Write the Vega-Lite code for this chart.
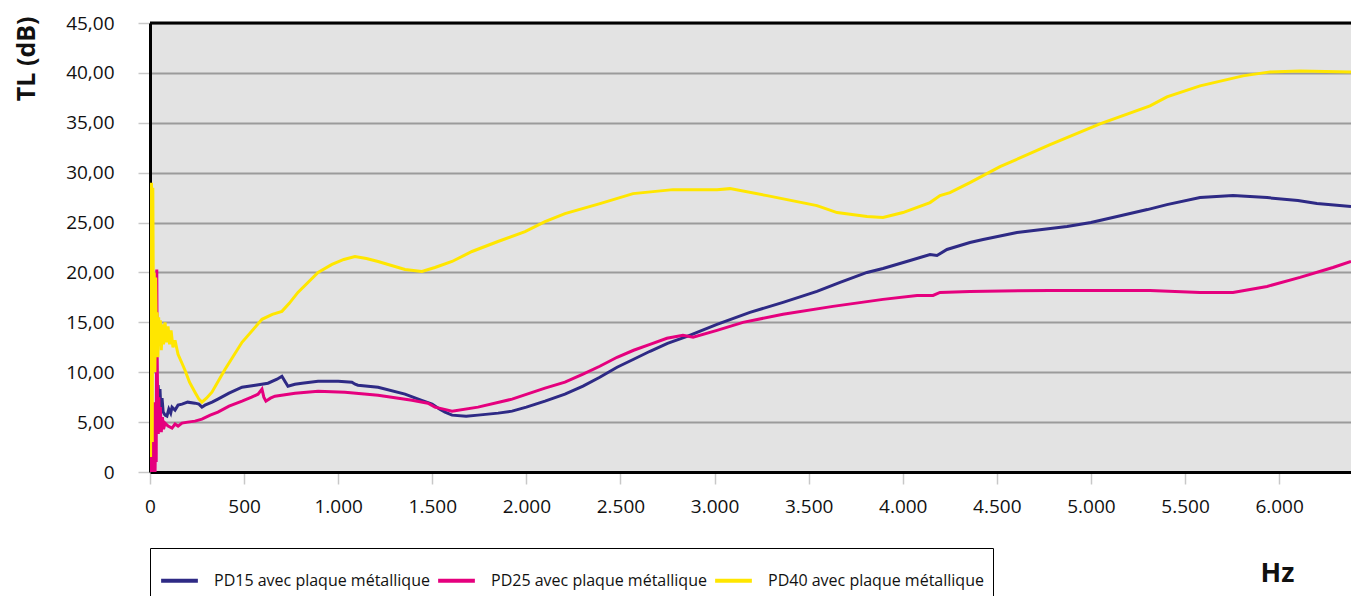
{
  "$schema": "https://vega.github.io/schema/vega-lite/v6.json",
  "autosize": {"type": "none"},
  "width": 1201,
  "height": 449,
  "padding": {"left": 150, "top": 23, "right": 0, "bottom": 124},
  "background": "white",
  "config": {
    "view": {"fill": "#E3E3E3", "stroke": null},
    "font": "Open Sans"
  },
  "datasets": {
    "curves": [
      {"serie": "PD15", "freq": 25, "tl": 4.5}, {"serie": "PD15", "freq": 35, "tl": 6.5}, {"serie": "PD15", "freq": 43, "tl": 8.7}, {"serie": "PD15", "freq": 48, "tl": 7.0}, {"serie": "PD15", "freq": 53, "tl": 8.3}, {"serie": "PD15", "freq": 58, "tl": 6.2}, {"serie": "PD15", "freq": 64, "tl": 7.4}, {"serie": "PD15", "freq": 70, "tl": 6.0}, {"serie": "PD15", "freq": 80, "tl": 5.7}, {"serie": "PD15", "freq": 90, "tl": 5.6}, {"serie": "PD15", "freq": 100, "tl": 6.3}, {"serie": "PD15", "freq": 110, "tl": 5.9}, {"serie": "PD15", "freq": 117, "tl": 6.5}, {"serie": "PD15", "freq": 133, "tl": 6.2}, {"serie": "PD15", "freq": 149, "tl": 6.7}, {"serie": "PD15", "freq": 170, "tl": 6.8}, {"serie": "PD15", "freq": 200, "tl": 7.0}, {"serie": "PD15", "freq": 239, "tl": 6.9}, {"serie": "PD15", "freq": 260, "tl": 6.8}, {"serie": "PD15", "freq": 276, "tl": 6.5}, {"serie": "PD15", "freq": 292, "tl": 6.7}, {"serie": "PD15", "freq": 330, "tl": 7.0}, {"serie": "PD15", "freq": 361, "tl": 7.3}, {"serie": "PD15", "freq": 420, "tl": 7.9}, {"serie": "PD15", "freq": 489, "tl": 8.5}, {"serie": "PD15", "freq": 560, "tl": 8.7}, {"serie": "PD15", "freq": 627, "tl": 8.9}, {"serie": "PD15", "freq": 675, "tl": 9.3}, {"serie": "PD15", "freq": 701, "tl": 9.6}, {"serie": "PD15", "freq": 720, "tl": 9.0}, {"serie": "PD15", "freq": 733, "tl": 8.6}, {"serie": "PD15", "freq": 770, "tl": 8.8}, {"serie": "PD15", "freq": 808, "tl": 8.9}, {"serie": "PD15", "freq": 893, "tl": 9.1}, {"serie": "PD15", "freq": 1000, "tl": 9.1}, {"serie": "PD15", "freq": 1073, "tl": 9.0}, {"serie": "PD15", "freq": 1090, "tl": 8.8}, {"serie": "PD15", "freq": 1105, "tl": 8.7}, {"serie": "PD15", "freq": 1212, "tl": 8.5}, {"serie": "PD15", "freq": 1355, "tl": 7.8}, {"serie": "PD15", "freq": 1440, "tl": 7.2}, {"serie": "PD15", "freq": 1499, "tl": 6.8}, {"serie": "PD15", "freq": 1540, "tl": 6.3}, {"serie": "PD15", "freq": 1568, "tl": 6.0}, {"serie": "PD15", "freq": 1605, "tl": 5.7}, {"serie": "PD15", "freq": 1680, "tl": 5.6}, {"serie": "PD15", "freq": 1743, "tl": 5.7}, {"serie": "PD15", "freq": 1850, "tl": 5.9}, {"serie": "PD15", "freq": 1924, "tl": 6.1}, {"serie": "PD15", "freq": 2000, "tl": 6.5}, {"serie": "PD15", "freq": 2099, "tl": 7.1}, {"serie": "PD15", "freq": 2205, "tl": 7.8}, {"serie": "PD15", "freq": 2301, "tl": 8.6}, {"serie": "PD15", "freq": 2390, "tl": 9.5}, {"serie": "PD15", "freq": 2482, "tl": 10.5}, {"serie": "PD15", "freq": 2570, "tl": 11.3}, {"serie": "PD15", "freq": 2657, "tl": 12.1}, {"serie": "PD15", "freq": 2750, "tl": 12.9}, {"serie": "PD15", "freq": 2854, "tl": 13.6}, {"serie": "PD15", "freq": 3013, "tl": 14.8}, {"serie": "PD15", "freq": 3188, "tl": 16.0}, {"serie": "PD15", "freq": 3364, "tl": 17.0}, {"serie": "PD15", "freq": 3544, "tl": 18.1}, {"serie": "PD15", "freq": 3667, "tl": 19.0}, {"serie": "PD15", "freq": 3810, "tl": 20.0}, {"serie": "PD15", "freq": 3895, "tl": 20.4}, {"serie": "PD15", "freq": 4039, "tl": 21.2}, {"serie": "PD15", "freq": 4145, "tl": 21.8}, {"serie": "PD15", "freq": 4182, "tl": 21.7}, {"serie": "PD15", "freq": 4235, "tl": 22.3}, {"serie": "PD15", "freq": 4357, "tl": 23.0}, {"serie": "PD15", "freq": 4427, "tl": 23.3}, {"serie": "PD15", "freq": 4607, "tl": 24.0}, {"serie": "PD15", "freq": 4873, "tl": 24.6}, {"serie": "PD15", "freq": 5000, "tl": 25.0}, {"serie": "PD15", "freq": 5139, "tl": 25.6}, {"serie": "PD15", "freq": 5300, "tl": 26.3}, {"serie": "PD15", "freq": 5404, "tl": 26.8}, {"serie": "PD15", "freq": 5580, "tl": 27.5}, {"serie": "PD15", "freq": 5755, "tl": 27.7}, {"serie": "PD15", "freq": 5936, "tl": 27.5}, {"serie": "PD15", "freq": 6100, "tl": 27.2}, {"serie": "PD15", "freq": 6201, "tl": 26.9}, {"serie": "PD15", "freq": 6382, "tl": 26.6},

      {"serie": "PD25", "freq": 3, "tl": 0}, {"serie": "PD25", "freq": 6, "tl": 6.5}, {"serie": "PD25", "freq": 9, "tl": 0.2}, {"serie": "PD25", "freq": 12, "tl": 7}, {"serie": "PD25", "freq": 15, "tl": 0}, {"serie": "PD25", "freq": 18, "tl": 5.5}, {"serie": "PD25", "freq": 21, "tl": 0.3}, {"serie": "PD25", "freq": 24, "tl": 7}, {"serie": "PD25", "freq": 27, "tl": 0}, {"serie": "PD25", "freq": 30, "tl": 5}, {"serie": "PD25", "freq": 33, "tl": 1}, {"serie": "PD25", "freq": 36, "tl": 20.3}, {"serie": "PD25", "freq": 38, "tl": 12}, {"serie": "PD25", "freq": 41, "tl": 6.5}, {"serie": "PD25", "freq": 44, "tl": 3.8}, {"serie": "PD25", "freq": 47, "tl": 7.5}, {"serie": "PD25", "freq": 50, "tl": 4.2}, {"serie": "PD25", "freq": 55, "tl": 6.5}, {"serie": "PD25", "freq": 60, "tl": 4.0}, {"serie": "PD25", "freq": 66, "tl": 5.5}, {"serie": "PD25", "freq": 72, "tl": 4.3}, {"serie": "PD25", "freq": 80, "tl": 4.9}, {"serie": "PD25", "freq": 96, "tl": 4.6}, {"serie": "PD25", "freq": 117, "tl": 4.4}, {"serie": "PD25", "freq": 133, "tl": 4.8}, {"serie": "PD25", "freq": 149, "tl": 4.6}, {"serie": "PD25", "freq": 170, "tl": 4.9}, {"serie": "PD25", "freq": 200, "tl": 5.0}, {"serie": "PD25", "freq": 239, "tl": 5.1}, {"serie": "PD25", "freq": 276, "tl": 5.3}, {"serie": "PD25", "freq": 320, "tl": 5.7}, {"serie": "PD25", "freq": 361, "tl": 6.0}, {"serie": "PD25", "freq": 420, "tl": 6.6}, {"serie": "PD25", "freq": 489, "tl": 7.1}, {"serie": "PD25", "freq": 540, "tl": 7.5}, {"serie": "PD25", "freq": 574, "tl": 7.8}, {"serie": "PD25", "freq": 595, "tl": 8.3}, {"serie": "PD25", "freq": 605, "tl": 7.5}, {"serie": "PD25", "freq": 616, "tl": 7.1}, {"serie": "PD25", "freq": 640, "tl": 7.4}, {"serie": "PD25", "freq": 664, "tl": 7.6}, {"serie": "PD25", "freq": 771, "tl": 7.9}, {"serie": "PD25", "freq": 893, "tl": 8.1}, {"serie": "PD25", "freq": 1036, "tl": 8.0}, {"serie": "PD25", "freq": 1212, "tl": 7.7}, {"serie": "PD25", "freq": 1392, "tl": 7.2}, {"serie": "PD25", "freq": 1477, "tl": 6.9}, {"serie": "PD25", "freq": 1514, "tl": 6.5}, {"serie": "PD25", "freq": 1560, "tl": 6.3}, {"serie": "PD25", "freq": 1605, "tl": 6.1}, {"serie": "PD25", "freq": 1743, "tl": 6.5}, {"serie": "PD25", "freq": 1924, "tl": 7.3}, {"serie": "PD25", "freq": 2099, "tl": 8.4}, {"serie": "PD25", "freq": 2205, "tl": 9.0}, {"serie": "PD25", "freq": 2301, "tl": 9.8}, {"serie": "PD25", "freq": 2390, "tl": 10.6}, {"serie": "PD25", "freq": 2482, "tl": 11.5}, {"serie": "PD25", "freq": 2570, "tl": 12.2}, {"serie": "PD25", "freq": 2657, "tl": 12.8}, {"serie": "PD25", "freq": 2747, "tl": 13.4}, {"serie": "PD25", "freq": 2832, "tl": 13.7}, {"serie": "PD25", "freq": 2886, "tl": 13.5}, {"serie": "PD25", "freq": 3013, "tl": 14.2}, {"serie": "PD25", "freq": 3151, "tl": 15.0}, {"serie": "PD25", "freq": 3364, "tl": 15.8}, {"serie": "PD25", "freq": 3629, "tl": 16.6}, {"serie": "PD25", "freq": 3895, "tl": 17.3}, {"serie": "PD25", "freq": 4076, "tl": 17.7}, {"serie": "PD25", "freq": 4161, "tl": 17.7}, {"serie": "PD25", "freq": 4198, "tl": 18.0}, {"serie": "PD25", "freq": 4357, "tl": 18.1}, {"serie": "PD25", "freq": 4783, "tl": 18.2}, {"serie": "PD25", "freq": 5314, "tl": 18.2}, {"serie": "PD25", "freq": 5580, "tl": 18.0}, {"serie": "PD25", "freq": 5755, "tl": 18.0}, {"serie": "PD25", "freq": 5936, "tl": 18.6}, {"serie": "PD25", "freq": 6111, "tl": 19.5}, {"serie": "PD25", "freq": 6286, "tl": 20.5}, {"serie": "PD25", "freq": 6382, "tl": 21.1},

      {"serie": "PD40", "freq": 3, "tl": 1.5}, {"serie": "PD40", "freq": 8, "tl": 29}, {"serie": "PD40", "freq": 12, "tl": 3}, {"serie": "PD40", "freq": 15, "tl": 28.5}, {"serie": "PD40", "freq": 19, "tl": 12}, {"serie": "PD40", "freq": 22, "tl": 20}, {"serie": "PD40", "freq": 26, "tl": 10}, {"serie": "PD40", "freq": 30, "tl": 19.5}, {"serie": "PD40", "freq": 34, "tl": 12}, {"serie": "PD40", "freq": 38, "tl": 16}, {"serie": "PD40", "freq": 42, "tl": 11.5}, {"serie": "PD40", "freq": 46, "tl": 15.5}, {"serie": "PD40", "freq": 50, "tl": 13}, {"serie": "PD40", "freq": 55, "tl": 15.2}, {"serie": "PD40", "freq": 60, "tl": 12.2}, {"serie": "PD40", "freq": 66, "tl": 14.8}, {"serie": "PD40", "freq": 72, "tl": 12.8}, {"serie": "PD40", "freq": 80, "tl": 15}, {"serie": "PD40", "freq": 88, "tl": 13}, {"serie": "PD40", "freq": 96, "tl": 14.6}, {"serie": "PD40", "freq": 104, "tl": 12.8}, {"serie": "PD40", "freq": 112, "tl": 14.2}, {"serie": "PD40", "freq": 122, "tl": 12.5}, {"serie": "PD40", "freq": 133, "tl": 13.2}, {"serie": "PD40", "freq": 149, "tl": 11.8}, {"serie": "PD40", "freq": 170, "tl": 10.9}, {"serie": "PD40", "freq": 186, "tl": 10.2}, {"serie": "PD40", "freq": 210, "tl": 9.0}, {"serie": "PD40", "freq": 239, "tl": 8.0}, {"serie": "PD40", "freq": 260, "tl": 7.3}, {"serie": "PD40", "freq": 276, "tl": 7.0}, {"serie": "PD40", "freq": 300, "tl": 7.4}, {"serie": "PD40", "freq": 329, "tl": 8.0}, {"serie": "PD40", "freq": 399, "tl": 10.3}, {"serie": "PD40", "freq": 489, "tl": 13.0}, {"serie": "PD40", "freq": 595, "tl": 15.3}, {"serie": "PD40", "freq": 650, "tl": 15.8}, {"serie": "PD40", "freq": 701, "tl": 16.1}, {"serie": "PD40", "freq": 740, "tl": 16.9}, {"serie": "PD40", "freq": 786, "tl": 18.0}, {"serie": "PD40", "freq": 893, "tl": 20.0}, {"serie": "PD40", "freq": 967, "tl": 20.8}, {"serie": "PD40", "freq": 1030, "tl": 21.3}, {"serie": "PD40", "freq": 1089, "tl": 21.6}, {"serie": "PD40", "freq": 1150, "tl": 21.4}, {"serie": "PD40", "freq": 1212, "tl": 21.1}, {"serie": "PD40", "freq": 1355, "tl": 20.3}, {"serie": "PD40", "freq": 1445, "tl": 20.1}, {"serie": "PD40", "freq": 1514, "tl": 20.5}, {"serie": "PD40", "freq": 1605, "tl": 21.1}, {"serie": "PD40", "freq": 1711, "tl": 22.1}, {"serie": "PD40", "freq": 1849, "tl": 23.1}, {"serie": "PD40", "freq": 1993, "tl": 24.1}, {"serie": "PD40", "freq": 2099, "tl": 25.1}, {"serie": "PD40", "freq": 2205, "tl": 25.9}, {"serie": "PD40", "freq": 2391, "tl": 26.9}, {"serie": "PD40", "freq": 2567, "tl": 27.9}, {"serie": "PD40", "freq": 2779, "tl": 28.3}, {"serie": "PD40", "freq": 3013, "tl": 28.3}, {"serie": "PD40", "freq": 3082, "tl": 28.4}, {"serie": "PD40", "freq": 3279, "tl": 27.7}, {"serie": "PD40", "freq": 3544, "tl": 26.7}, {"serie": "PD40", "freq": 3651, "tl": 26.0}, {"serie": "PD40", "freq": 3810, "tl": 25.6}, {"serie": "PD40", "freq": 3895, "tl": 25.5}, {"serie": "PD40", "freq": 4001, "tl": 26.0}, {"serie": "PD40", "freq": 4145, "tl": 27.0}, {"serie": "PD40", "freq": 4198, "tl": 27.7}, {"serie": "PD40", "freq": 4251, "tl": 28.0}, {"serie": "PD40", "freq": 4357, "tl": 29.0}, {"serie": "PD40", "freq": 4517, "tl": 30.6}, {"serie": "PD40", "freq": 4783, "tl": 32.8}, {"serie": "PD40", "freq": 5048, "tl": 34.9}, {"serie": "PD40", "freq": 5314, "tl": 36.7}, {"serie": "PD40", "freq": 5404, "tl": 37.6}, {"serie": "PD40", "freq": 5580, "tl": 38.7}, {"serie": "PD40", "freq": 5808, "tl": 39.7}, {"serie": "PD40", "freq": 5952, "tl": 40.1}, {"serie": "PD40", "freq": 6111, "tl": 40.2}, {"serie": "PD40", "freq": 6382, "tl": 40.1}
    ]
  },
  "layer": [
    {
      "data": {"name": "curves"},
      "mark": {"type": "line", "strokeWidth": 3, "clip": true, "interpolate": "linear"},
      "encoding": {
        "x": {
          "field": "freq", "type": "quantitative",
          "scale": {"domain": [0, 6382], "nice": false, "zero": false},
          "axis": {
            "values": [0, 500, 1000, 1500, 2000, 2500, 3000, 3500, 4000, 4500, 5000, 5500, 6000],
            "labelExpr": "replace(format(datum.value, ','), ',', '.')",
            "grid": false,
            "domainColor": "#000000", "domainWidth": 3,
            "tickColor": "#C8C8C8", "tickWidth": 1.5, "tickSize": 12,
            "labelFont": "Open Sans", "labelFontSize": 19, "labelColor": "#111111",
            "labelPadding": 13, "labelFlush": false,
            "title": "Hz", "titleFont": "Open Sans", "titleFontSize": 27, "titleFontWeight": "bold", "titleColor": "#111111",
            "titleX": 1127, "titleY": 101, "titleAlign": "center", "titleBaseline": "middle"
          }
        },
        "y": {
          "field": "tl", "type": "quantitative",
          "scale": {"domain": [0, 45], "nice": false},
          "axis": {
            "values": [0, 5, 10, 15, 20, 25, 30, 35, 40, 45],
            "labelExpr": "datum.value == 0 ? '0' : replace(format(datum.value, '.2f'), '.', ',')",
            "grid": true, "gridColor": "#9B9B9B", "gridWidth": 2.2, "gridOpacity": 1,
            "domainColor": "#000000", "domainWidth": 3,
            "tickColor": "#C8C8C8", "tickWidth": 1.5, "tickSize": 12,
            "labelFont": "Open Sans", "labelFontSize": 19, "labelColor": "#111111",
            "labelPadding": 24, "labelFlush": false, "labelBaseline": "middle",
            "title": "TL (dB)", "titleFont": "Open Sans", "titleFontSize": 25, "titleFontWeight": "bold", "titleColor": "#111111",
            "titleAngle": 270, "titleX": -124, "titleY": -7, "titleAlign": "right", "titleBaseline": "middle"
          }
        },
        "color": {
          "field": "serie", "type": "nominal",
          "scale": {"domain": ["PD15", "PD25", "PD40"], "range": ["#2E2A85", "#E5007E", "#FFE600"]},
          "legend": {
            "orient": "none", "legendX": 0, "legendY": 525,
            "direction": "horizontal",
            "title": " ", "titleFontSize": 3, "titlePadding": 0,
            "labelExpr": "datum.label + ' avec plaque métallique'",
            "labelFont": "Open Sans", "labelFontSize": 16, "labelColor": "#111111", "labelLimit": 400,
            "labelOffset": 14,
            "symbolType": "stroke", "symbolSize": 1350, "symbolStrokeWidth": 4,
            "columnPadding": 0,
            "padding": 9,
            "strokeColor": "#000000", "fillColor": "#FFFFFF"
          }
        }
      }
    },
    {
      "data": {"values": [{}]},
      "mark": {"type": "rule", "color": "#000000", "strokeWidth": 3},
      "encoding": {"y": {"datum": 45}}
    }
  ]
}
